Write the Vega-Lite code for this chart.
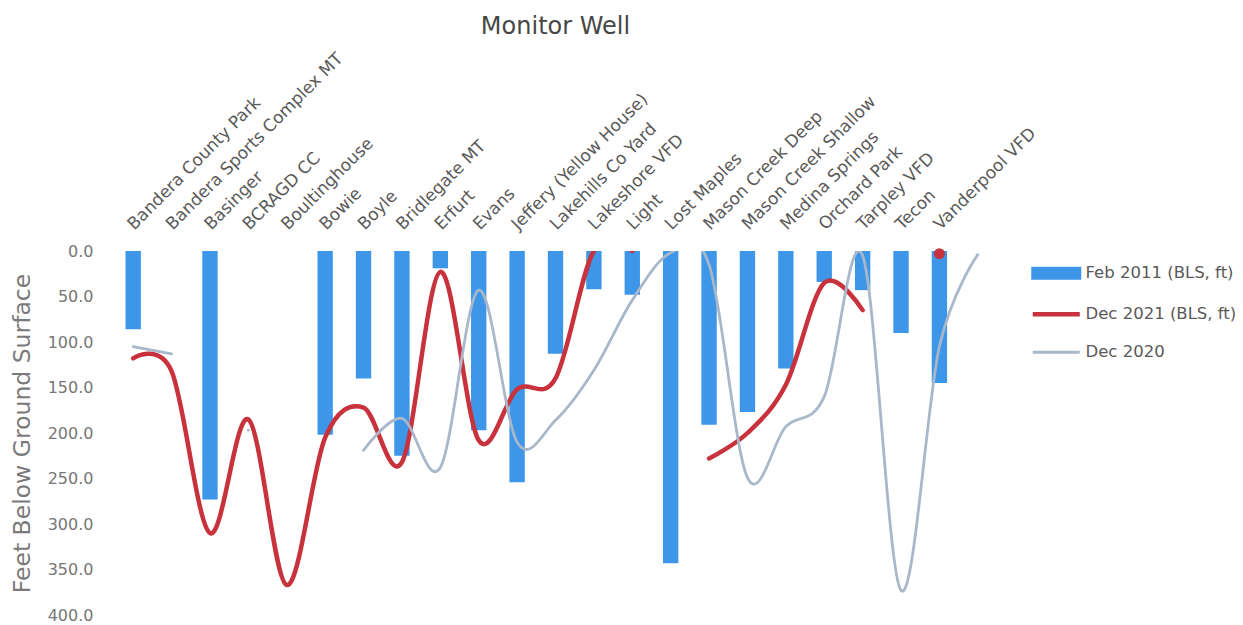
{
  "$schema": "https://vega.github.io/schema/vega-lite/v6.json",
  "width": 883,
  "height": 364,
  "autosize": {"type": "none"},
  "padding": {"left": 114, "top": 251, "right": 246, "bottom": 10},
  "background": "white",
  "title": {
    "text": "Monitor Well",
    "font": "DejaVu Sans",
    "fontSize": 24,
    "fontWeight": "normal",
    "color": "#474747",
    "anchor": "middle",
    "offset": 10
  },
  "config": {
    "view": {"stroke": null},
    "font": "DejaVu Sans"
  },
  "data": {
    "values": [
      {"well": "Bandera County Park", "series": "Feb 2011 (BLS, ft)", "depth": 86},
      {"well": "Bandera County Park", "series": "Dec 2021 (BLS, ft)", "depth": 118},
      {"well": "Bandera County Park", "series": "Dec 2020", "depth": 105},
      {"well": "Bandera Sports Complex MT", "series": "Feb 2011 (BLS, ft)", "depth": null},
      {"well": "Bandera Sports Complex MT", "series": "Dec 2021 (BLS, ft)", "depth": 132},
      {"well": "Bandera Sports Complex MT", "series": "Dec 2020", "depth": 113},
      {"well": "Basinger", "series": "Feb 2011 (BLS, ft)", "depth": 273},
      {"well": "Basinger", "series": "Dec 2021 (BLS, ft)", "depth": 310},
      {"well": "Basinger", "series": "Dec 2020", "depth": null},
      {"well": "BCRAGD CC", "series": "Feb 2011 (BLS, ft)", "depth": null},
      {"well": "BCRAGD CC", "series": "Dec 2021 (BLS, ft)", "depth": 185},
      {"well": "BCRAGD CC", "series": "Dec 2020", "depth": 197},
      {"well": "Boultinghouse", "series": "Feb 2011 (BLS, ft)", "depth": null},
      {"well": "Boultinghouse", "series": "Dec 2021 (BLS, ft)", "depth": 367},
      {"well": "Boultinghouse", "series": "Dec 2020", "depth": null},
      {"well": "Bowie", "series": "Feb 2011 (BLS, ft)", "depth": 202},
      {"well": "Bowie", "series": "Dec 2021 (BLS, ft)", "depth": 205},
      {"well": "Bowie", "series": "Dec 2020", "depth": null},
      {"well": "Boyle", "series": "Feb 2011 (BLS, ft)", "depth": 140},
      {"well": "Boyle", "series": "Dec 2021 (BLS, ft)", "depth": 172},
      {"well": "Boyle", "series": "Dec 2020", "depth": 219},
      {"well": "Bridlegate MT", "series": "Feb 2011 (BLS, ft)", "depth": 225},
      {"well": "Bridlegate MT", "series": "Dec 2021 (BLS, ft)", "depth": 232},
      {"well": "Bridlegate MT", "series": "Dec 2020", "depth": 184},
      {"well": "Erfurt", "series": "Feb 2011 (BLS, ft)", "depth": 19},
      {"well": "Erfurt", "series": "Dec 2021 (BLS, ft)", "depth": 23},
      {"well": "Erfurt", "series": "Dec 2020", "depth": 238},
      {"well": "Evans", "series": "Feb 2011 (BLS, ft)", "depth": 197},
      {"well": "Evans", "series": "Dec 2021 (BLS, ft)", "depth": 208},
      {"well": "Evans", "series": "Dec 2020", "depth": 43},
      {"well": "Jeffery (Yellow House)", "series": "Feb 2011 (BLS, ft)", "depth": 254},
      {"well": "Jeffery (Yellow House)", "series": "Dec 2021 (BLS, ft)", "depth": 152},
      {"well": "Jeffery (Yellow House)", "series": "Dec 2020", "depth": 210},
      {"well": "Lakehills Co Yard", "series": "Feb 2011 (BLS, ft)", "depth": 113},
      {"well": "Lakehills Co Yard", "series": "Dec 2021 (BLS, ft)", "depth": 140},
      {"well": "Lakehills Co Yard", "series": "Dec 2020", "depth": 186},
      {"well": "Lakeshore VFD", "series": "Feb 2011 (BLS, ft)", "depth": 42},
      {"well": "Lakeshore VFD", "series": "Dec 2021 (BLS, ft)", "depth": 0},
      {"well": "Lakeshore VFD", "series": "Dec 2020", "depth": 131},
      {"well": "Light", "series": "Feb 2011 (BLS, ft)", "depth": 48},
      {"well": "Light", "series": "Dec 2021 (BLS, ft)", "depth": 0},
      {"well": "Light", "series": "Dec 2020", "depth": 54},
      {"well": "Lost Maples", "series": "Feb 2011 (BLS, ft)", "depth": 343},
      {"well": "Lost Maples", "series": "Dec 2021 (BLS, ft)", "depth": null},
      {"well": "Lost Maples", "series": "Dec 2020", "depth": 2},
      {"well": "Mason Creek Deep", "series": "Feb 2011 (BLS, ft)", "depth": 191},
      {"well": "Mason Creek Deep", "series": "Dec 2021 (BLS, ft)", "depth": 228},
      {"well": "Mason Creek Deep", "series": "Dec 2020", "depth": 15},
      {"well": "Mason Creek Shallow", "series": "Feb 2011 (BLS, ft)", "depth": 177},
      {"well": "Mason Creek Shallow", "series": "Dec 2021 (BLS, ft)", "depth": 200},
      {"well": "Mason Creek Shallow", "series": "Dec 2020", "depth": 249},
      {"well": "Medina Springs", "series": "Feb 2011 (BLS, ft)", "depth": 129},
      {"well": "Medina Springs", "series": "Dec 2021 (BLS, ft)", "depth": 147},
      {"well": "Medina Springs", "series": "Dec 2020", "depth": 193},
      {"well": "Orchard Park", "series": "Feb 2011 (BLS, ft)", "depth": 34},
      {"well": "Orchard Park", "series": "Dec 2021 (BLS, ft)", "depth": 35},
      {"well": "Orchard Park", "series": "Dec 2020", "depth": 160},
      {"well": "Tarpley VFD", "series": "Feb 2011 (BLS, ft)", "depth": 43},
      {"well": "Tarpley VFD", "series": "Dec 2021 (BLS, ft)", "depth": 65},
      {"well": "Tarpley VFD", "series": "Dec 2020", "depth": 5},
      {"well": "Tecon", "series": "Feb 2011 (BLS, ft)", "depth": 90},
      {"well": "Tecon", "series": "Dec 2021 (BLS, ft)", "depth": null},
      {"well": "Tecon", "series": "Dec 2020", "depth": 373},
      {"well": "Vanderpool VFD", "series": "Feb 2011 (BLS, ft)", "depth": 145},
      {"well": "Vanderpool VFD", "series": "Dec 2021 (BLS, ft)", "depth": 3},
      {"well": "Vanderpool VFD", "series": "Dec 2020", "depth": 105},
      {"well": "", "series": "Feb 2011 (BLS, ft)", "depth": null},
      {"well": "", "series": "Dec 2021 (BLS, ft)", "depth": null},
      {"well": "", "series": "Dec 2020", "depth": 4}
    ]
  },
  "encoding": {
    "x": {
      "field": "well",
      "type": "nominal",
      "scale": {
        "domain": ["Bandera County Park", "Bandera Sports Complex MT", "Basinger", "BCRAGD CC", "Boultinghouse", "Bowie", "Boyle", "Bridlegate MT", "Erfurt", "Evans", "Jeffery (Yellow House)", "Lakehills Co Yard", "Lakeshore VFD", "Light", "Lost Maples", "Mason Creek Deep", "Mason Creek Shallow", "Medina Springs", "Orchard Park", "Tarpley VFD", "Tecon", "Vanderpool VFD", ""],
        "paddingInner": 0.6,
        "paddingOuter": 0.3
      },
      "axis": {
        "orient": "top",
        "title": null,
        "labelAngle": -45,
        "labelFont": "DejaVu Sans",
        "labelFontSize": 17,
        "labelColor": "#595959",
        "labelPadding": 18,
        "labelOffset": 4,
        "labelLimit": 400,
        "domain": false,
        "ticks": false,
        "grid": false
      }
    },
    "y": {
      "field": "depth",
      "type": "quantitative",
      "scale": {"domain": [0, 400], "reverse": true, "nice": false},
      "axis": {
        "title": "Feet Below Ground Surface",
        "titleFont": "DejaVu Sans",
        "titleFontSize": 23.5,
        "titleFontWeight": "normal",
        "titleColor": "#7a7a7a",
        "titlePadding": 13,
        "values": [0, 50, 100, 150, 200, 250, 300, 350, 400],
        "format": ".1f",
        "labelFont": "DejaVu Sans",
        "labelFontSize": 16,
        "labelColor": "#767676",
        "labelPadding": 21,
        "domain": false,
        "ticks": false,
        "grid": false
      }
    },
    "color": {
      "field": "series",
      "type": "nominal",
      "scale": {
        "domain": ["Feb 2011 (BLS, ft)", "Dec 2021 (BLS, ft)", "Dec 2020"],
        "range": ["#3d96e8", "#c8323c", "#a9b7ca"]
      },
      "legend": {
        "title": null,
        "orient": "none",
        "legendX": 921,
        "legendY": 14,
        "padding": 0,
        "symbolSize": 400,
        "symbolOffset": 13,
        "labelOffset": 21,
        "rowPadding": 20,
        "labelFont": "DejaVu Sans",
        "labelFontSize": 16.5,
        "labelColor": "#595959",
        "encode": {
          "symbols": {
            "update": {
              "shape": {"signal": "datum.value === 'Feb 2011 (BLS, ft)' ? 'M-2.35,-0.5H2.35V0.5H-2.35Z' : 'M-2.35,0H2.35'"},
              "fill": {"signal": "datum.value === 'Feb 2011 (BLS, ft)' ? '#3d96e8' : 'transparent'"},
              "stroke": {"signal": "datum.value === 'Feb 2011 (BLS, ft)' ? 'transparent' : datum.value === 'Dec 2021 (BLS, ft)' ? '#c8323c' : '#a9b7ca'"},
              "strokeWidth": {"signal": "datum.value === 'Dec 2021 (BLS, ft)' ? 4.5 : 3"},
              "opacity": {"value": 1}
            }
          }
        }
      }
    }
  },
  "layer": [
    {
      "transform": [{"filter": "datum.series === 'Feb 2011 (BLS, ft)'"}],
      "mark": {"type": "bar", "invalid": "filter"}
    },
    {
      "transform": [{"filter": "datum.series === 'Dec 2021 (BLS, ft)'"}],
      "mark": {
        "type": "line",
        "interpolate": "cardinal",
        "tension": 0,
        "strokeWidth": 4.5,
        "strokeCap": "round",
        "clip": true,
        "invalid": "break-paths-show-domains"
      }
    },
    {
      "transform": [{"filter": "datum.series === 'Dec 2021 (BLS, ft)' && datum.well === 'Vanderpool VFD'"}],
      "mark": {"type": "circle", "size": 120, "opacity": 1}
    },
    {
      "transform": [{"filter": "datum.series === 'Dec 2020'"}],
      "mark": {
        "type": "line",
        "interpolate": "cardinal",
        "tension": 0,
        "strokeWidth": 2.8,
        "strokeCap": "round",
        "clip": true,
        "invalid": "break-paths-show-domains"
      }
    }
  ]
}
